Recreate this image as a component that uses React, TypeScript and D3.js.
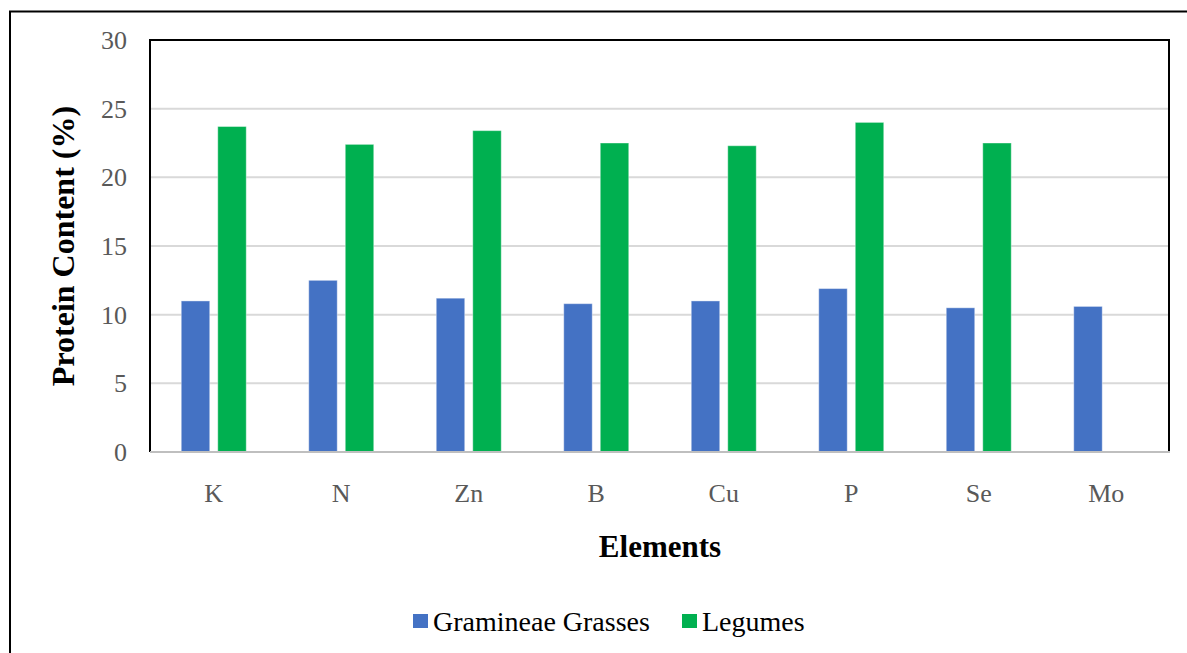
import React from 'react';
import * as d3 from 'd3';

const elements = ['K', 'N', 'Zn', 'B', 'Cu', 'P', 'Se', 'Mo'];
const grasses = [11.0, 12.5, 11.2, 10.8, 11.0, 11.9, 10.5, 10.6];
const legumes = [23.7, 22.4, 23.4, 22.5, 22.3, 24.0, 22.5, 0];
const yTicks = [0, 5, 10, 15, 20, 25, 30];
const seriesNames = ['Gramineae Grasses', 'Legumes'];
const seriesColors = ['#4472c4', '#00b050'];

const W = 1187;
const H = 653;
const left = 150, right = 1170, top = 40, bottom = 452;
const font = '"Liberation Serif", "Times New Roman", serif';

const App = () => {
    const x0 = d3.scaleBand().domain(elements).range([left, right]);
    const step = x0.bandwidth();
    const x1 = d3.scaleBand()
        .domain(seriesNames)
        .range([(step - 65) / 2, (step + 65) / 2])
        .paddingInner(0.22);
    const y = d3.scaleLinear().domain([0, 30]).range([bottom, top]);
    const values = [grasses, legumes];

    return (
        <svg width={W} height={H} style={{ position: 'absolute', left: 0, top: 0, display: 'block' }}>
            <rect x={0} y={0} width={W} height={H} fill="#fff" />
            {/* outer chart border, runs off the right and bottom edges */}
            <rect x={10} y={11.5} width={W + 20} height={H + 20} fill="none" stroke="#000" strokeWidth={2} />

            {/* gridlines */}
            {yTicks.filter(t => t > 0 && t < 30).map(t => (
                <line key={t} x1={left} x2={right} y1={y(t)} y2={y(t)} stroke="#d9d9d9" strokeWidth={2} />
            ))}

            {/* bars */}
            {elements.map((el, i) => (
                <g key={el} transform={`translate(${x0(el)},0)`}>
                    {values.map((vals, s) => vals[i] > 0 && (
                        <rect
                            key={s}
                            x={x1(seriesNames[s])}
                            y={y(vals[i])}
                            width={x1.bandwidth()}
                            height={y(0) - y(vals[i])}
                            fill={seriesColors[s]}
                            stroke="#fff"
                            strokeOpacity={0.4}
                            strokeWidth={1}
                        />
                    ))}
                </g>
            ))}

            {/* plot frame */}
            <line x1={left} x2={right} y1={top} y2={top} stroke="#000" strokeWidth={2} />
            <line x1={left} x2={left} y1={top - 1} y2={bottom} stroke="#000" strokeWidth={2} />
            <line x1={right - 1} x2={right - 1} y1={top - 1} y2={bottom} stroke="#000" strokeWidth={2} />
            <line x1={left} x2={right} y1={bottom} y2={bottom} stroke="#bfbfbf" strokeWidth={2} />

            {/* y tick labels */}
            {yTicks.map(t => (
                <text key={t} x={127} y={y(t)} dy="0.35em" textAnchor="end"
                    fontFamily={font} fontSize={26} fill="#595959">{t}</text>
            ))}

            {/* category labels */}
            {elements.map(el => (
                <text key={el} x={(x0(el) as number) + step / 2} y={502} textAnchor="middle"
                    fontFamily={font} fontSize={26} fill="#595959">{el}</text>
            ))}

            {/* axis titles */}
            <text x={660} y={557} textAnchor="middle" fontFamily={font} fontSize={31}
                fontWeight="bold" fill="#000">Elements</text>
            <text transform={`translate(74,246) rotate(-90)`} textAnchor="middle" fontFamily={font}
                fontSize={32} fontWeight="bold" fill="#000">Protein Content (%)</text>

            {/* legend */}
            {[413, 682].map((lx, s) => (
                <g key={s}>
                    <rect x={lx} y={614} width={15} height={14} fill={seriesColors[s]} />
                    <text x={lx + 20} y={631} fontFamily={font} fontSize={28} fill="#000">{seriesNames[s]}</text>
                </g>
            ))}
        </svg>
    );
};

export default App;
